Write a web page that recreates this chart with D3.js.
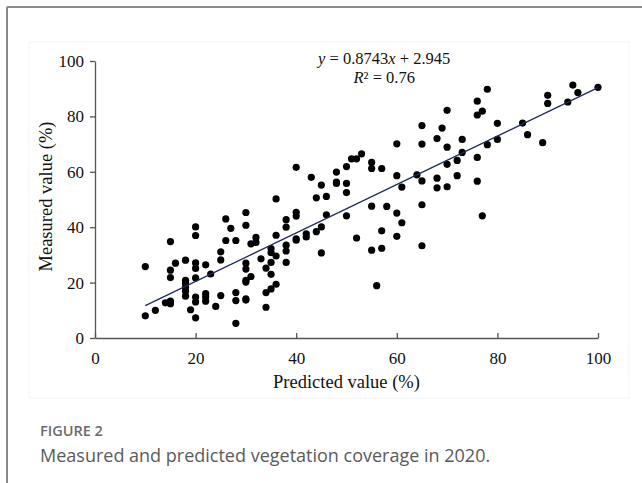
<!DOCTYPE html>
<html>
<head>
<meta charset="utf-8">
<script src="https://cdn.jsdelivr.net/npm/d3@7"></script>
<style>
  body { margin: 0; background: #fff; }
  svg { display: block; }
</style>
</head>
<body>
<div id="chart"></div>
<script>
// predicted (x) and measured (y) values
const predicted = [10,10,12,14,15,15,15,15,15,16,18,18,18,18,18,18,19,20,20,20,20,20,20,20,20,
  22,22,22,22,23,24,25,25,25,26,26,27,28,28,28,28,30,30,30,30,30,30,30,30,31,31,32,32,33,
  34,34,34,35,35,35,35,35,36,36,36,36,38,38,38,38,38,40,40,40,40,40,42,42,43,44,44,45,45,45,
  46,46,48,48,48,50,50,50,50,51,52,52,53,55,55,55,55,56,57,57,57,58,60,60,60,60,61,61,64,
  65,65,65,65,65,68,68,68,69,70,70,70,70,72,72,73,73,76,76,76,76,77,77,78,78,80,80,85,86,
  89,90,90,94,95,96,100];
const measured = [25.8,8.0,10,12.7,34.8,24.5,21.8,13.3,12.4,27,28.1,20.8,19.6,18.2,16.9,15.1,10.2,
  40.1,37,27.1,25.1,21.7,14.8,13,7.3,
  26.4,16,14.8,13.3,23.1,11.4,31.1,28.2,15.3,43,35.2,39.6,35.2,16.4,13.5,5.3,
  45.3,40.7,27,24.9,20.8,20.2,14.1,13.7,34,22.2,36.3,34.5,28.6,
  25.2,16.4,11.1,32.3,30.8,27.3,23,17.7,50.2,37.1,29.6,19.4,42.7,40,33.5,31.4,27.3,
  61.6,45.4,44,35.8,35.3,37.6,36.5,58,50.6,38.4,55.2,40.1,30.7,
  51.1,44.5,59.9,56.3,55.8,61.9,55.8,52.5,44.1,64.7,64.7,36.1,66.5,63.4,61.2,47.6,31.7,
  18.9,61.2,38.7,32.4,47.5,70.1,58.6,45.1,36.7,54.5,41.6,58.9,
  76.7,70,56.7,48.1,33.3,72,57.7,54.2,75.8,82.2,68.9,62.7,54.6,64.1,58.6,71.7,67,
  85.5,80.5,65.2,56.6,81.9,44.1,89.8,69.8,77.5,71.7,77.6,73.4,
  70.5,87.6,84.7,85.2,91.3,88.6,90.5];

const xTicks = [0, 20, 40, 60, 80, 100];
const yTicks = [0, 20, 40, 60, 80, 100];
const slope = 0.8743, intercept = 2.945;
const fitRange = [10, 100];

const W = 642, H = 483;
const margin = {top: 61, right: 44, bottom: 145, left: 95},
    width = W - margin.left - margin.right,
    height = H - margin.top - margin.bottom;

const svg = d3.select("#chart").append("svg")
    .attr("width", W)
    .attr("height", H);

// outer frame (top + left grey rules)
svg.append("line").attr("x1", 7).attr("x2", W).attr("y1", 7).attr("y2", 7)
    .attr("stroke", "#8a8a8a").attr("stroke-width", 2);
svg.append("line").attr("x1", 7).attr("x2", 7).attr("y1", 7).attr("y2", H)
    .attr("stroke", "#8a8a8a").attr("stroke-width", 2);

// faint panel behind the plot image
svg.append("rect")
    .attr("x", 29).attr("y", 42).attr("width", 600).attr("height", 356)
    .attr("fill", "#fff").attr("stroke", "#f3f3f3");

const g = svg.append("g")
    .attr("transform", "translate(" + margin.left + "," + margin.top + ")");

const x = d3.scaleLinear().domain([0, 100]).range([0, width]);
const y = d3.scaleLinear().domain([0, 100]).range([height, 0]);

// x axis, ticks pointing inward
const xAxis = g.append("g")
    .attr("transform", `translate(0,${height})`)
    .call(d3.axisBottom(x).tickValues(xTicks).tickSizeInner(-5).tickSizeOuter(0).tickPadding(14));
// y axis, ticks pointing outward
const yAxis = g.append("g")
    .call(d3.axisLeft(y).tickValues(yTicks).tickSizeInner(5).tickSizeOuter(0).tickPadding(6));

[xAxis, yAxis].forEach(a => {
  a.select(".domain").attr("stroke", "#555").attr("stroke-width", 1.3);
  a.selectAll(".tick line").attr("stroke", "#555").attr("stroke-width", 1.3);
  a.selectAll("text")
    .style("font-family", "'Liberation Serif', 'DejaVu Serif', serif")
    .style("font-size", "17px")
    .attr("fill", "#111");
});

// points
g.append("g").selectAll("circle")
  .data(predicted.map((p, i) => ({p: p, m: measured[i]})))
  .enter().append("circle")
    .attr("cx", d => x(d.p))
    .attr("cy", d => y(d.m))
    .attr("r", 3.6)
    .attr("fill", "#000");

// fitted line
g.append("path")
    .datum(fitRange)
    .attr("fill", "none")
    .attr("stroke", "#1f2b5c")
    .attr("stroke-width", 1.3)
    .attr("d", d3.line().x(d => x(d)).y(d => y(slope * d + intercept)));

// equation
const eq = g.append("text")
    .attr("x", x(57.5)).attr("y", 3)
    .attr("text-anchor", "middle")
    .style("font-family", "'Liberation Serif', serif")
    .style("font-size", "16.5px")
    .attr("fill", "#111");
eq.append("tspan").style("font-style", "italic").text("y");
eq.append("tspan").text(" = 0.8743");
eq.append("tspan").style("font-style", "italic").text("x");
eq.append("tspan").text(" + 2.945");

const r2 = g.append("text")
    .attr("x", x(57.5)).attr("y", 22)
    .attr("text-anchor", "middle")
    .style("font-family", "'Liberation Serif', serif")
    .style("font-size", "16.5px")
    .attr("fill", "#111");
r2.append("tspan").style("font-style", "italic").text("R");
r2.append("tspan").text("² = 0.76");

// axis titles
g.append("text")
    .attr("text-anchor", "middle")
    .attr("x", width / 2)
    .attr("y", height + 50)
    .text("Predicted value (%)")
    .style("font-family", "'Liberation Serif', serif")
    .style("font-size", "18.5px")
    .attr("fill", "#111");

g.append("text")
    .attr("text-anchor", "middle")
    .attr("transform", "rotate(-90)")
    .attr("x", -height / 2 + 3)
    .attr("y", -43)
    .text("Measured value (%)")
    .style("font-family", "'Liberation Serif', serif")
    .style("font-size", "18.5px")
    .attr("fill", "#111");

// caption
svg.append("text")
    .attr("x", 40).attr("y", 436)
    .text("FIGURE 2")
    .style("font-family", "'Open Sans', sans-serif")
    .style("font-size", "14.5px")
    .style("font-weight", "600")
    .attr("fill", "#6b6b6b");

svg.append("text")
    .attr("x", 40).attr("y", 462)
    .text("Measured and predicted vegetation coverage in 2020.")
    .style("font-family", "'Open Sans', sans-serif")
    .style("font-size", "18px")
    .attr("fill", "#5a5a5a");
</script>
</body>
</html>
